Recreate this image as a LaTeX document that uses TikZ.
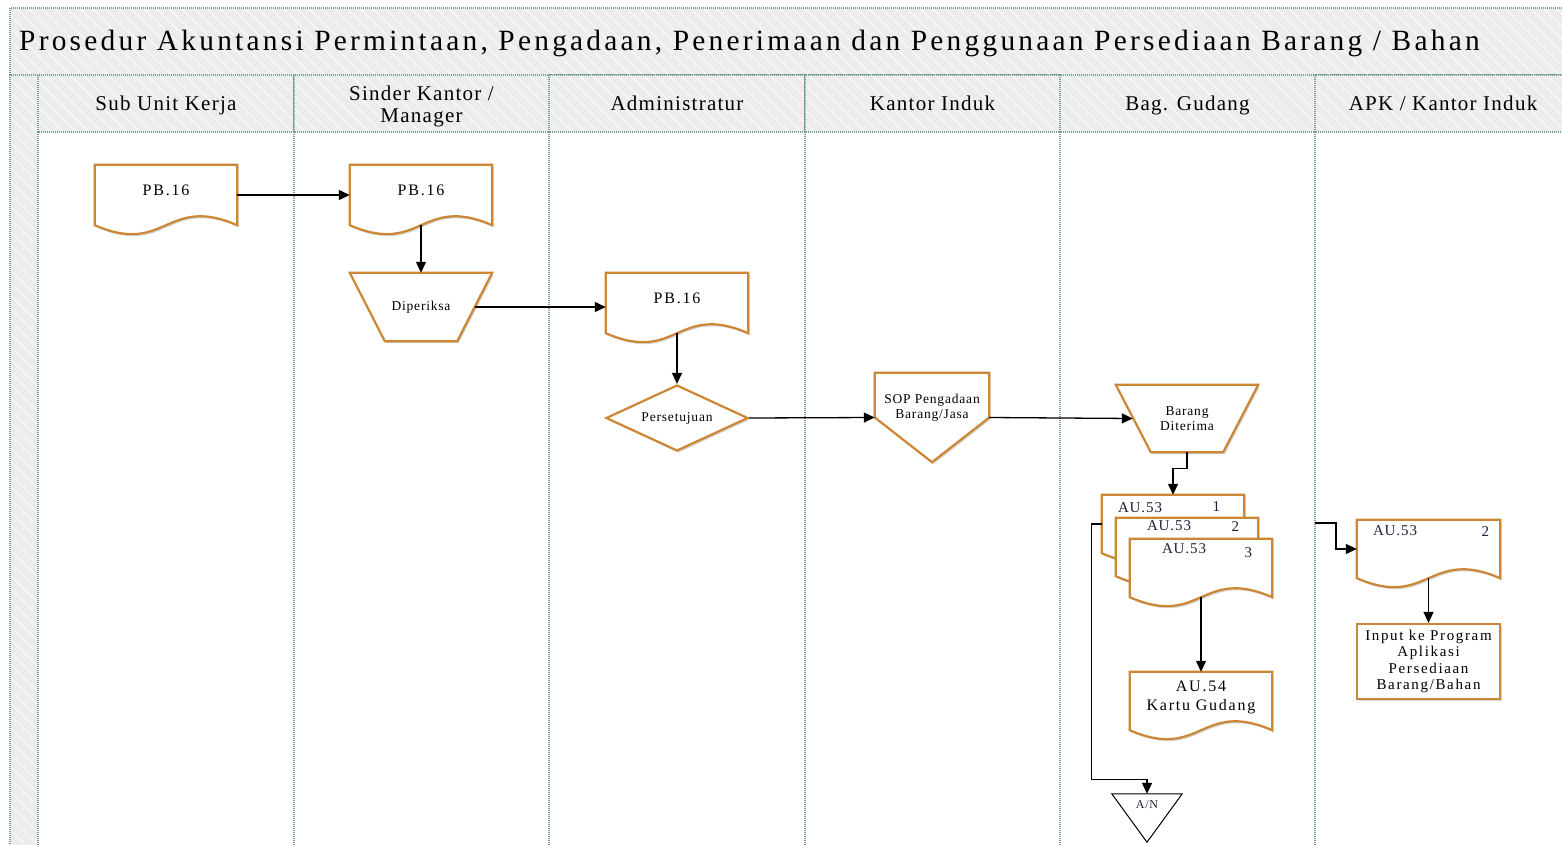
\documentclass[tikz,border=0pt]{standalone}
\usepackage{fontspec}
\setmainfont{Liberation Serif}
\newfontfamily\flowfont[LetterSpace=6]{Liberation Serif}
\newfontfamily\widefont[LetterSpace=11]{Liberation Serif}
\usetikzlibrary{arrows.meta,positioning,calc,shapes.geometric,shadows,patterns.meta}
\definecolor{flowora}{RGB}{205,134,52}
\definecolor{flowgrid}{RGB}{120,158,148}
\definecolor{flowhead}{RGB}{236,236,236}
\definecolor{flowink}{RGB}{30,32,60}
\pgfdeclarelayer{lanes}
\pgfdeclarelayer{shapes}
\pgfsetlayers{lanes,shapes,main}
\tikzset{
  headcell/.style={
    fill=flowhead,
    postaction={pattern={Lines[angle=-45,distance=9pt,line width=0.7pt]},pattern color=white}
  },
  gridline/.style={draw=flowgrid,line width=1.1pt,dash pattern=on 1pt off 1pt},
  titletext/.style={font=\widefont\fontsize{29.4}{32}\selectfont,inner sep=0pt},
  headtext/.style={font=\flowfont\fontsize{21}{22}\selectfont,align=center,inner sep=0pt,
    text height=15pt,text depth=5pt},
  twoline/.style={text height=,text depth=},
  docframe/.style={
    minimum width=142pt,
    minimum height=60pt,
    inner sep=0pt,
    align=center,
    text depth=10pt,
    font=\widefont\fontsize{16}{19}\selectfont
  },
  stackframe/.style={docframe,minimum height=58pt},
  docline/.style={
    draw=flowora,
    fill=white,
    line width=2.2pt,
    drop shadow={shadow xshift=1.5pt,shadow yshift=-2pt,fill=black!35,opacity=.5}
  },
  opframe/.style={
    minimum width=142pt,
    minimum height=68pt,
    inner sep=0pt,
    align=center
  },
  decide/.style={
    diamond,
    aspect=2.15,
    minimum width=142pt,
    minimum height=66pt,
    inner sep=0pt,
    docline
  },
  procbox/.style={
    rectangle,
    minimum width=143pt,
    minimum height=75pt,
    inner sep=0pt,
    align=center,
    docline,
    font=\widefont\fontsize{15}{16.5}\selectfont
  },
  smalltext/.style={font=\flowfont\fontsize{13.5}{15}\selectfont},
  stk/.style={font=\flowfont\fontsize{15}{16}\selectfont,text=flowink,inner sep=0pt},
  arr/.style={-{Triangle[length=11pt,width=10pt]},line width=1.3pt,black}
}
\newcommand{\docoutline}[1]{%
  \draw[docline] (#1.south west) .. controls ($(#1.south)+(0,31)$) and ($(#1.south)+(0,-31)$) .. (#1.south east)
    -- (#1.north east) -- (#1.north west) -- cycle;}
\newcommand{\opoutline}[1]{%
  \draw[docline] (#1.north west) -- (#1.north east) -- ($(#1.south east)+(-35,0)$)
    -- ($(#1.south west)+(35,0)$) -- cycle;}

\begin{document}
\begin{tikzpicture}[x=1pt,y=-1pt]
  \useasboundingbox (0,0) rectangle (1562,845);
  \clip (0,0) rectangle (1562,845);

  % swimlanes
  \begin{pgfonlayer}{lanes}
    \path[headcell] (10,8) rectangle (1580,75);
    \path[headcell] (10,75) rectangle (38,860);
    \draw[gridline] (10,8) rectangle (1580,75);
    \draw[gridline] (10,75) -- (10,860);
    \node[titletext,anchor=base west] (title) at (19,51)
      {Prosedur Akuntansi Permintaan, Pengadaan, Penerimaan dan Penggunaan Persediaan Barang / Bahan};
    \foreach \xa/\xb/\lname/\lopt [count=\i] in {38/294/{Sub Unit Kerja}/{},294/549/{Sinder Kantor /\\Manager}/twoline,
        549/805/{Administratur}/{},805/1060/{Kantor Induk}/{},1060/1315/{Bag. Gudang}/{},1315/1571/{APK / Kantor Induk}/{}} {
      \path[headcell] (\xa,75) rectangle (\xb,132);
      \draw[gridline] (\xa,75) rectangle (\xb,132);
      \draw[gridline] (\xa,132) -- (\xa,860);
      \node[headtext,\lopt] (lane\i) at ({(\xa+\xb)/2},106) {\lname};
    }
  \end{pgfonlayer}

  % Sub Unit Kerja / Sinder Kantor
  \node[docframe] (d1) at (166,195) {PB.16};
  \node[docframe] (d2) at (421,195) {PB.16};
  \node[opframe,smalltext] (dp) at (421,307) {Diperiksa};

  % Administratur
  \node[docframe] (d3) at (677,303) {PB.16};
  \node[decide,smalltext] (ps) at (677,418) {Persetujuan};

  % Kantor Induk
  \node[minimum width=114pt,minimum height=89pt,inner sep=0pt,
    label={[smalltext,align=center,yshift=10pt]center:SOP Pengadaan\\Barang/Jasa}] (sop) at (932,417.5) {};

  % Bag. Gudang
  \node[opframe,smalltext,minimum height=67pt] (bd) at (1187,418.5) {Barang\\Diterima};
  \node[stackframe,
    label={[stk,anchor=north west,xshift=16pt,yshift=-8pt]north west:AU.53},
    label={[stk,anchor=north east,xshift=-24pt,yshift=-7pt]north east:1}] (au1) at (1173,524) {};
  \node[stackframe,
    label={[stk,anchor=north west,xshift=31pt,yshift=-3pt]north west:AU.53},
    label={[stk,anchor=north east,xshift=-19pt,yshift=-4pt]north east:2}] (au2) at (1187,547) {};
  \node[stackframe,
    label={[stk,anchor=north west,xshift=32pt,yshift=-5pt]north west:AU.53},
    label={[stk,anchor=north east,xshift=-20pt,yshift=-9pt]north east:3}] (au3) at (1201,568) {};
  \node[stackframe] (au54) at (1201,701) {AU.54\\Kartu Gudang};
  \node[minimum width=70pt,minimum height=48pt,inner sep=0pt,
    label={[font=\flowfont\fontsize{12}{13}\selectfont,text=flowink,yshift=13pt]center:A/N}] (an) at (1147,818) {};

  % APK / Kantor Induk
  \coordinate (stackout) at (1315,523);
  \node[stackframe,minimum width=143pt,
    label={[stk,anchor=north west,xshift=16pt,yshift=-6pt]north west:AU.53},
    label={[stk,anchor=north east,xshift=-11pt,yshift=-7pt]north east:2}] (au2r) at (1428.5,549) {};
  \node[procbox] (inp) at (1428.5,661.5) {Input ke Program\\Aplikasi\\Persediaan\\Barang/Bahan};

  \begin{pgfonlayer}{shapes}
    \foreach \d in {d1,d2,d3,au1,au2,au3,au54,au2r}{\docoutline{\d}}
    \opoutline{dp}
    \opoutline{bd}
    \draw[docline] (sop.north west) -- (sop.north east) -- (sop.east) -- (sop.south) -- (sop.west) -- cycle;
    \draw[line width=1pt,fill=white] (an.north west) -- (an.north east) -- (an.south) -- cycle;
  \end{pgfonlayer}

  % connectors
  \draw[arr] (d1.east) -- (d2.west);
  \draw[arr] (d2.south) -- (dp.north);
  \draw[arr] ($(dp.east)+(-17,0)$) -- (dp.east -| d3.west);
  \draw[arr] (d3.south) -- (ps.north);
  \draw[arr] (ps.east) -- (sop.west);
  \draw[arr] (sop.east) -- ($(bd.west)+(17,0)$);
  \draw[arr] (bd.south) -- ++(0,16) -| (au1.north);
  \draw[arr] (au1.west) -- ++(-10,0) |- ([yshift=14pt]an.north) -- (an.north);
  \draw[arr] (au3.south) -- (au54.north);
  \draw[arr] (stackout) -- ++(21,0) |- (au2r.west);
  \draw[arr] (au2r.south) -- (inp.north);
\end{tikzpicture}
\end{document}
